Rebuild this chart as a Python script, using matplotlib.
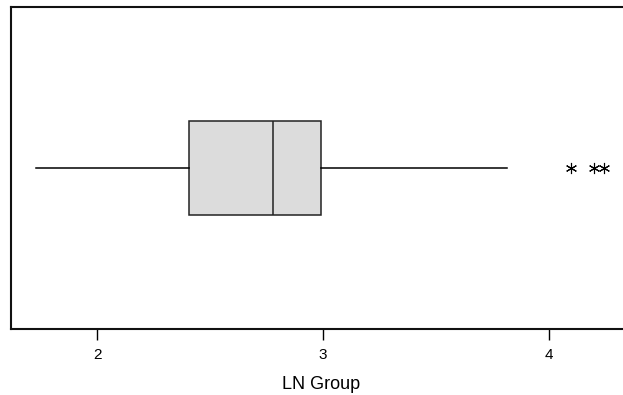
import matplotlib
matplotlib.use("Agg")
import matplotlib.pyplot as plt

plt.rcParams['font.family'] = ['Liberation Sans', 'DejaVu Sans']

# Box-plot summary values
label = "LN Group"
whisker_low = 1.726
q1 = 2.405
median = 2.778
q3 = 2.989
whisker_high = 3.813
outliers = [4.100, 4.198, 4.246]
xticks = [2, 3, 4]
xtick_labels = ["2", "3", "4"]

fig = plt.figure(figsize=(6.23, 3.95), dpi=100)
ax = fig.add_axes([11/623, (395-329)/395, (632-11)/623, (329-7)/395])

stats = [dict(med=median, q1=q1, q3=q3, whislo=whisker_low,
              whishi=whisker_high, fliers=outliers, label="")]
ax.bxp(stats, positions=[1], widths=0.29, vert=False, patch_artist=True,
       showcaps=False,
       boxprops=dict(facecolor="#dcdcdc", edgecolor="#222222", linewidth=1.1),
       medianprops=dict(color="#222222", linewidth=1.1),
       whiskerprops=dict(color="black", linewidth=1.1),
       flierprops=dict(marker=(6, 2, 0), markersize=8, markeredgecolor="black",
                       markeredgewidth=0.8, linestyle="none"))

ax.set_xlim(1.6168, 2 + (632 - 97.5) / 225.7)
ax.set_ylim(0.5, 1.5)
ax.set_yticks([])
ax.set_xticks(xticks)
ax.set_xticklabels(xtick_labels, fontsize=11)
ax.tick_params(axis='x', length=8, width=1, pad=6, direction='out')
for s in ax.spines.values():
    s.set_linewidth(1.5)
    s.set_color("#111111")
ax.spines['right'].set_visible(False)
ax.set_xlabel(label, fontsize=13, labelpad=10)

fig.savefig("out.png", dpi=100)
